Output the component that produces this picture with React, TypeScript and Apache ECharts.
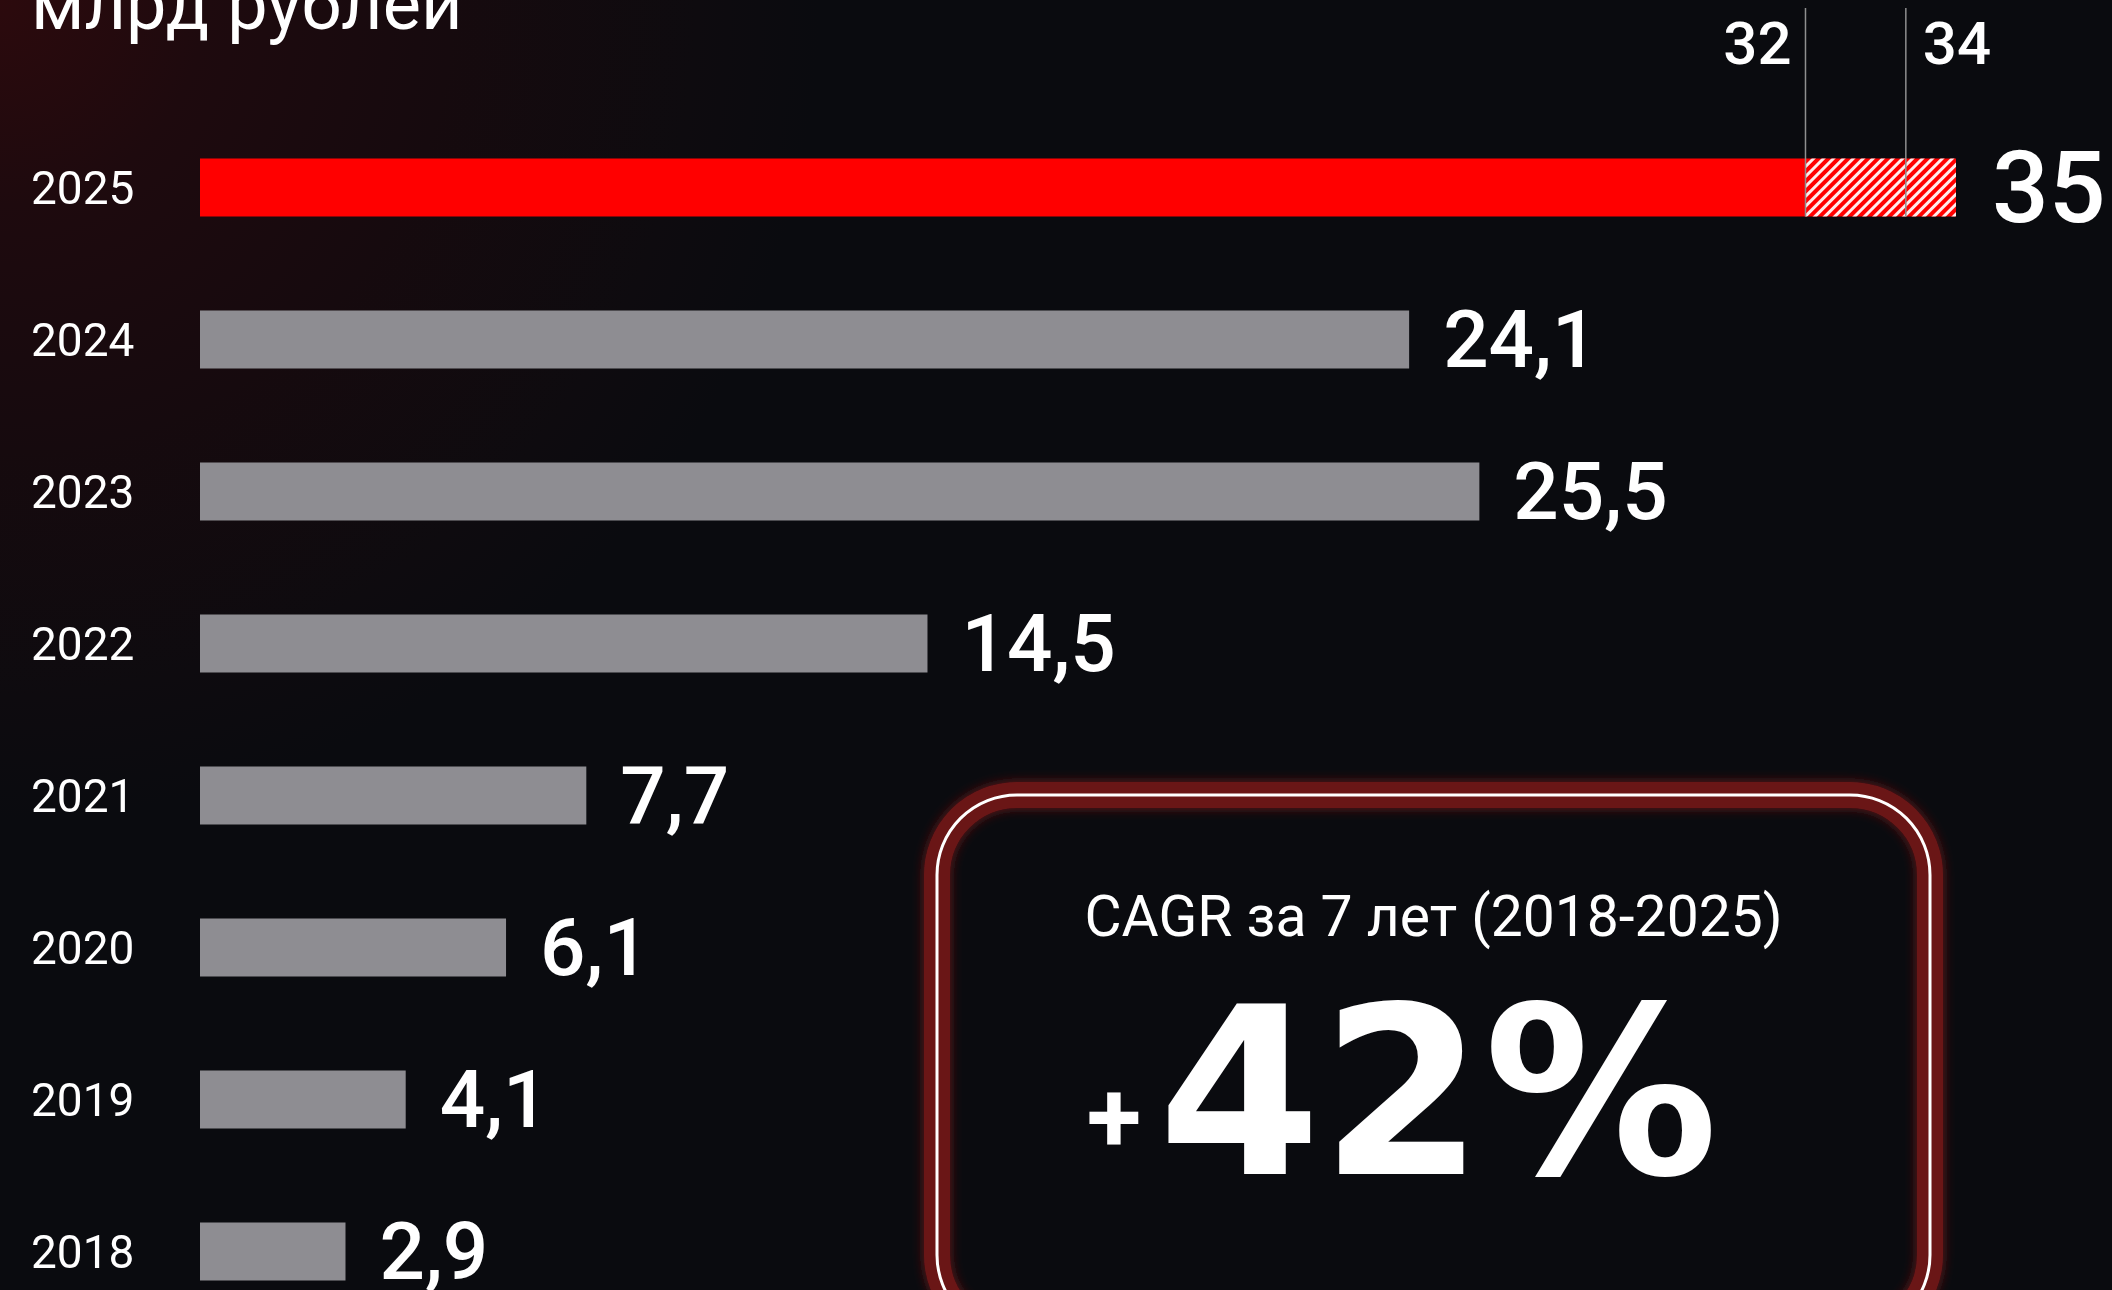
import { useEffect, useRef } from 'react';
import * as echarts from 'echarts';

const categories = ['2018', '2019', '2020', '2021', '2022', '2023', '2024', '2025'];
const totals = [2.9, 4.1, 6.1, 7.7, 14.5, 25.5, 24.1, 35];
const forecastFrom = 32;
const markerValues = [32, 34];
const unitTitle = 'млрд рублей';
const cagrCaption = 'CAGR за 7 лет (2018-2025)';
const cagrSign = '+';
const cagrValue = '42%';

const FONT = 'Roboto';

export default function App() {
  const ref = useRef<HTMLDivElement>(null);

  useEffect(() => {
    const chart = echarts.init(ref.current as HTMLDivElement, null, { renderer: 'svg' });
    const lastIdx = categories.length - 1;
    const fmt = (v: number) => String(v).replace('.', ',');

    const solid = totals.map((v, i) =>
      i === lastIdx
        ? { value: forecastFrom, itemStyle: { color: '#ff0000' }, label: { show: false } }
        : { value: v }
    );
    const hatch = totals.map((v, i) =>
      i === lastIdx
        ? {
            value: v - forecastFrom,
            label: {
              show: true,
              position: 'right',
              distance: 36,
              formatter: fmt(v),
              fontSize: 100,
              fontWeight: 500,
              fontFamily: FONT,
              color: '#ffffff',
            },
          }
        : { value: 0, label: { show: false } }
    );

    chart.setOption({
      animation: false,
      backgroundColor: new echarts.graphic.RadialGradient(
        0,
        0,
        820,
        [
          { offset: 0, color: '#2c0a0d' },
          { offset: 0.25, color: '#1e0a0e' },
          { offset: 0.55, color: '#160a0e' },
          { offset: 0.85, color: '#0e0b0f' },
          { offset: 1, color: '#0a0b0f' },
        ],
        true
      ),
      grid: { left: 200, top: 187.5, width: 1756, height: 1064 },
      xAxis: { type: 'value', min: 0, max: 35, show: false },
      yAxis: {
        type: 'category',
        data: categories,
        boundaryGap: false,
        axisLine: { show: false },
        axisTick: { show: false },
        splitLine: { show: false },
        axisLabel: {
          color: '#ffffff',
          fontSize: 46,
          fontFamily: FONT,
          align: 'left',
          margin: 169,
        },
      },
      series: [
        {
          type: 'bar',
          stack: 'total',
          data: solid,
          barWidth: 58,
          itemStyle: { color: '#8e8d92' },
          label: {
            show: true,
            position: 'right',
            distance: 34,
            color: '#ffffff',
            fontSize: 80,
            fontWeight: 500,
            fontFamily: FONT,
            formatter: (p: any) => fmt(p.value),
          },
        },
        {
          type: 'bar',
          stack: 'total',
          data: hatch,
          barWidth: 58,
          itemStyle: {
            color: '#ff0000',
            decal: {
              symbol: 'rect',
              symbolSize: 1,
              color: 'rgba(255,255,255,0.92)',
              dashArrayX: [1, 0],
              dashArrayY: [3, 4],
              rotation: -Math.PI / 4,
            },
          },
        },
      ],
    });

    const yCenter = chart.convertToPixel({ yAxisIndex: 0 }, categories[lastIdx]) as number;
    const half = 29;
    const markerGraphics: any[] = [];
    markerValues.forEach((v, i) => {
      const x = chart.convertToPixel({ xAxisIndex: 0 }, v) as number;
      markerGraphics.push({
        type: 'line',
        z: 100,
        shape: { x1: x, y1: 8, x2: x, y2: yCenter + half },
        style: { stroke: '#8f8f8f', lineWidth: 1.5 },
      });
      markerGraphics.push({
        type: 'text',
        z: 100,
        x: i === 0 ? x - 14 : x + 17,
        y: 43,
        style: {
          text: String(v),
          fill: '#ffffff',
          fontSize: 60,
          fontWeight: 500,
          fontFamily: FONT,
          align: i === 0 ? 'right' : 'left',
          verticalAlign: 'middle',
        },
      });
    });

    chart.setOption({
      graphic: [
        {
          type: 'text',
          x: 31,
          y: 4,
          style: {
            text: unitTitle,
            fill: '#ffffff',
            fontSize: 72,
            fontFamily: FONT,
            align: 'left',
            verticalAlign: 'middle',
          },
        },
        ...markerGraphics,
        {
          type: 'rect',
          shape: { x: 937, y: 795, width: 993, height: 540, r: 80 },
          style: {
            fill: 'none',
            stroke: '#6b1518',
            lineWidth: 26,
            shadowBlur: 12,
            shadowColor: '#6b1518',
          },
        },
        {
          type: 'rect',
          shape: { x: 937, y: 795, width: 993, height: 540, r: 80 },
          style: { fill: 'none', stroke: '#ffffff', lineWidth: 3 },
        },
        {
          type: 'text',
          x: 1433.5,
          y: 916,
          style: {
            text: cagrCaption,
            fill: '#ffffff',
            fontSize: 57,
            fontFamily: FONT,
            align: 'center',
            verticalAlign: 'middle',
          },
        },
        {
          type: 'text',
          x: 1114,
          y: 1116,
          style: {
            text: cagrSign,
            fill: '#ffffff',
            fontSize: 100,
            fontWeight: 'bold',
            fontFamily: FONT,
            align: 'center',
            verticalAlign: 'middle',
          },
        },
        {
          type: 'text',
          x: 1158,
          y: 1093,
          style: {
            text: cagrValue,
            fill: '#ffffff',
            fontSize: 234,
            fontWeight: 'bold',
            fontFamily: 'DejaVu Sans',
            align: 'left',
            verticalAlign: 'middle',
          },
        },
      ],
    });

    return () => chart.dispose();
  }, []);

  return (
    <div
      ref={ref}
      style={{ position: 'fixed', left: 0, top: 0, width: 2112, height: 1290 }}
    />
  );
}
